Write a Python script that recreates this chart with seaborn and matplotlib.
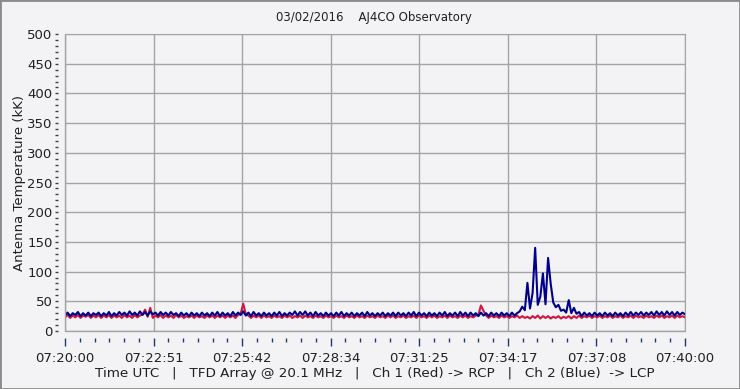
import numpy as np
import pandas as pd
import matplotlib
matplotlib.use("Agg")
import matplotlib.pyplot as plt
from matplotlib.patches import Rectangle
from matplotlib.ticker import MultipleLocator
import seaborn as sns

# samples every 5 s from 07:20:00 to 07:40:00, values in kK
step_s = 5

ch1_red = [
    23, 27, 22, 26, 23, 27, 22, 26, 24, 27, 22, 26, 23, 27, 22, 26, 23, 27, 22, 26,
    23, 26, 22, 27, 23, 26, 22, 27, 23, 26, 28, 36, 24, 39, 22, 26, 23, 27, 22, 26,
    23, 26, 22, 27, 23, 26, 22, 25, 23, 26, 22, 26, 23, 25, 22, 26, 23, 26, 22, 26,
    23, 26, 22, 26, 23, 26, 22, 27, 29, 46, 28, 26, 22, 26, 23, 26, 22, 26, 23, 25,
    22, 26, 23, 25, 22, 26, 23, 26, 22, 25, 23, 26, 22, 26, 23, 25, 22, 26, 23, 25,
    22, 26, 23, 25, 22, 26, 23, 25, 22, 26, 23, 25, 22, 26, 23, 25, 22, 26, 23, 25,
    22, 26, 23, 25, 22, 26, 23, 26, 22, 25, 23, 26, 22, 25, 23, 26, 22, 26, 23, 25,
    22, 26, 23, 26, 22, 25, 23, 26, 22, 26, 23, 25, 22, 26, 23, 26, 22, 25, 23, 26,
    27, 43, 34, 26, 22, 26, 23, 25, 22, 26, 23, 25, 22, 25, 23, 26, 22, 25, 22, 24,
    21, 25, 22, 26, 21, 25, 22, 25, 21, 24, 22, 25, 21, 24, 22, 25, 21, 25, 22, 26,
    22, 25, 23, 26, 22, 25, 23, 26, 22, 25, 23, 26, 22, 25, 23, 26, 22, 25, 23, 26,
    22, 26, 23, 25, 22, 26, 23, 25, 22, 26, 23, 26, 22, 25, 23, 26, 22, 26, 23, 25, 23,
]

ch2_blue = [
    26, 31, 25, 30, 27, 32, 25, 30, 26, 31, 25, 30, 27, 31, 25, 30, 26, 32, 25, 30,
    26, 32, 27, 31, 26, 33, 27, 31, 26, 33, 27, 32, 26, 33, 28, 31, 26, 32, 27, 31,
    26, 32, 27, 30, 25, 31, 26, 30, 25, 31, 26, 30, 25, 31, 26, 30, 25, 31, 26, 32,
    25, 31, 26, 30, 25, 32, 26, 31, 27, 33, 26, 31, 25, 32, 26, 30, 25, 31, 26, 30,
    25, 31, 26, 32, 25, 30, 26, 31, 27, 33, 26, 32, 27, 33, 26, 31, 25, 32, 26, 30,
    25, 31, 26, 30, 25, 31, 26, 32, 25, 30, 26, 31, 25, 30, 26, 31, 25, 32, 26, 30,
    25, 30, 26, 31, 25, 30, 26, 31, 25, 31, 26, 30, 25, 31, 26, 32, 25, 31, 26, 30,
    25, 31, 26, 30, 25, 31, 26, 32, 25, 30, 26, 31, 25, 32, 26, 31, 25, 31, 26, 30,
    25, 31, 26, 30, 25, 31, 26, 30, 25, 31, 26, 30, 25, 31, 26,
    30, 33, 41, 35, 81, 38, 64, 140, 44, 58, 97, 45, 123, 80, 48, 40, 44, 34, 36, 31,
    52, 30, 39, 29, 32,
    25, 31, 26, 30, 25, 31, 26, 30, 25, 31, 26, 30, 25, 31, 26, 30, 25, 31, 26, 32,
    26, 31, 27, 32, 26, 31, 27, 32, 26, 33, 27, 32, 26, 33, 27, 32, 26, 32, 27, 31, 28,
]

tick_labels = ["07:20:00", "07:22:51", "07:25:42", "07:28:34",
               "07:31:25", "07:34:17", "07:37:08", "07:40:00"]

secs = np.arange(len(ch2_blue)) * step_s
df = pd.DataFrame({"t": secs, "red": ch1_red, "blue": ch2_blue})

sns.set_style("white")
plt.rcParams["font.family"] = ["DejaVu Sans"]

bg = "#f3f3f6"
grid_c = "#a4a4a4"
fig = plt.figure(figsize=(7.4, 3.89), dpi=100, facecolor=bg)
ax = fig.add_axes([65 / 740, 1 - 331 / 389, 620 / 740, 297 / 389])
ax.set_facecolor(bg)

sns.lineplot(data=df, x="t", y="red", color="#d01840", lw=1.5, ax=ax)
sns.lineplot(data=df, x="t", y="blue", color="#00008c", lw=1.5, ax=ax)

ax.set_xlim(0, 1200)
ax.set_ylim(0, 500)
ax.set_xticks(np.linspace(0, 1200, len(tick_labels)))
ax.set_xticklabels(tick_labels)
ax.xaxis.set_minor_locator(MultipleLocator(1200 / 42))
ax.set_yticks(range(0, 501, 50))
ax.yaxis.set_minor_locator(MultipleLocator(10))
ax.grid(True, which="major", color=grid_c, lw=1)

for s in ["top", "right"]:
    ax.spines[s].set_color(grid_c)
for s in ["left", "bottom"]:
    ax.spines[s].set_position(("outward", 5))
    ax.spines[s].set_color("none")
ax.axhline(0, color=grid_c, lw=1, clip_on=False)
ax.axvline(0, color=grid_c, lw=1, clip_on=False)

ax.tick_params(which="both", bottom=True, left=True, top=False, right=False)
ax.tick_params(axis="x", which="major", direction="out", length=6, width=1,
               color="#203a6a", pad=4, labelsize=9.5, labelcolor="#202020")
ax.tick_params(axis="x", which="minor", direction="out", length=3, width=1,
               color="#203a6a")
ax.tick_params(axis="y", which="major", direction="out", length=2, width=1,
               color="#404040", pad=2, labelsize=9.5, labelcolor="#202020")
ax.tick_params(axis="y", which="minor", direction="out", length=2, width=1,
               color="#404040")
ax.set_xlabel("")
ax.set_ylabel("")

fig.text(374 / 740, 1 - 18 / 389, "03/02/2016    AJ4CO Observatory",
         ha="center", va="center", fontsize=8.5, color="#202020")
fig.text(375 / 740, 1 - 374 / 389,
         "Time UTC   |   TFD Array @ 20.1 MHz   |   Ch 1 (Red) -> RCP   |   Ch 2 (Blue)  -> LCP",
         ha="center", va="center", fontsize=9.7, color="#202020")
fig.text(20 / 740, 1 - 183 / 389, "Antenna Temperature (kK)", rotation=90,
         ha="center", va="center", fontsize=9.5, color="#202020")

fig.patches.append(Rectangle((0, 0), 1, 1, transform=fig.transFigure, fill=False,
                             edgecolor="#8a8a8a", lw=2))

fig.savefig("out.png", dpi=100, facecolor=bg)
